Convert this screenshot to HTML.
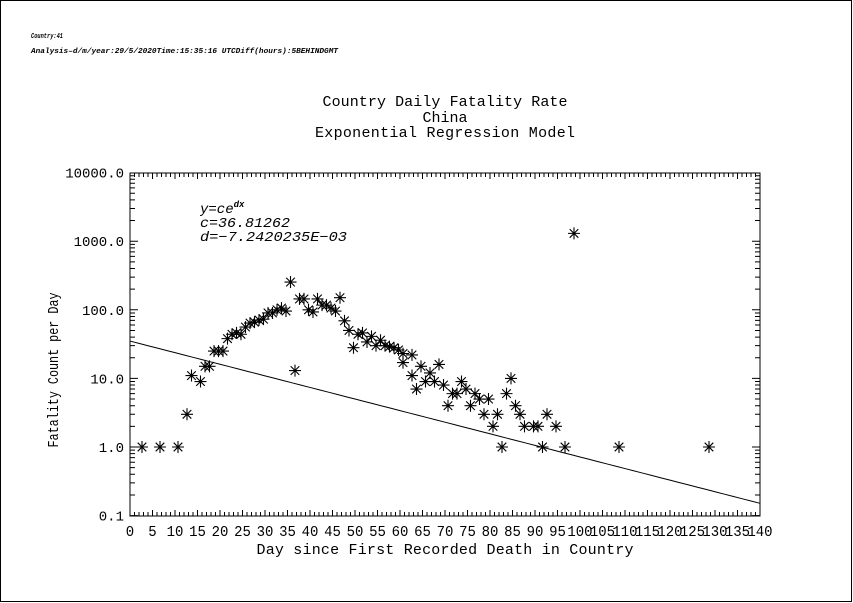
<!DOCTYPE html>
<html><head><meta charset="utf-8"><style>
html,body{margin:0;padding:0;background:#fff}
svg{display:block}
text{font-family:"Liberation Mono",monospace;fill:#000}
</style></head><body>
<svg id="chart" width="853" height="603" viewBox="0 0 853 603" xmlns="http://www.w3.org/2000/svg">
<rect x="0.5" y="0.5" width="851" height="601" fill="#fff" stroke="#000"/>
<text x="31" y="38" font-size="7" font-family="Liberation Serif" font-style="italic" font-weight="bold" textLength="32" lengthAdjust="spacingAndGlyphs">Country:41</text>
<text x="31" y="53" font-size="7" font-family="Liberation Serif" font-style="italic" font-weight="bold" textLength="307" lengthAdjust="spacingAndGlyphs">Analysis–d/m/year:29/5/2020Time:15:35:16 UTCDiff(hours):5BEHINDGMT</text>
<text x="445" y="106" font-size="15" text-anchor="middle" textLength="245">Country Daily Fatality Rate</text>
<text x="445" y="122" font-size="15" text-anchor="middle">China</text>
<text x="445" y="137" font-size="15" text-anchor="middle" textLength="260">Exponential Regression Model</text>
<text x="445" y="554" font-size="15" text-anchor="middle" textLength="377">Day since First Recorded Death in Country</text>
<text transform="translate(58,370) rotate(-90)" font-size="15" text-anchor="middle" textLength="155" lengthAdjust="spacingAndGlyphs">Fatality Count per Day</text>
<g font-family="Liberation Serif" font-style="italic" font-size="14">
<text x="200" y="213">y=ce<tspan font-size="9" dy="-6" font-weight="bold">dx</tspan></text>
<text x="200" y="227" textLength="90" lengthAdjust="spacingAndGlyphs">c=36.81262</text>
<text x="200" y="241" textLength="147" lengthAdjust="spacingAndGlyphs">d=−7.2420235E−03</text>
</g>
<g id="axes"></g><g id="line"></g><g id="pts"></g>
</svg>
<script>
const days = [3,7,11,13,14,16,17,18,19,20,21,22,23,24,25,26,27,28,29,30,31,32,33,34,35,36,37,38,39,40,41,42,43,44,45,46,47,48,49,50,51,52,53,54,55,56,57,58,59,60,61,61,63,63,64,65,66,67,68,69,70,71,72,73,74,75,76,77,78,79,80,81,82,83,84,85,86,87,88,90,91,92,93,95,97,99,109,129];
const fatalities = [1,1,1,3,11,9,15,15,25,25,25,38,44,46,44,56,64,66,71,73,90,90,100,106,96,254,13,144,144,100,93,144,117,117,106,96,150,69,50,28,44,46,34,41,30,36,30,29,28,26,23,17,22,11,7,15,9,12,9,16,8,4,6,6,9,7,4,6,5,3,5,2,3,1,6,10,4,3,2,2,2,1,3,2,1,1300,1,1];
const modelC = 35;
const modelD = -0.0389;
const xTicks = [0,5,10,15,20,25,30,35,40,45,50,55,60,65,70,75,80,85,90,95,100,105,110,115,120,125,130,135,140];
const yTicks = [0.1,1,10,100,1000,10000];
const yTickLabels = ["0.1","1.0","10.0","100.0","1000.0","10000.0"];

const NS="http://www.w3.org/2000/svg";
const L=130,R=760,T=173,B=516;
const X=d=>128.5+4.5*d;
const Y=v=>447-68.6*Math.log10(v);
function mk(tag,attrs,parent){const e=document.createElementNS(NS,tag);for(const k in attrs)e.setAttribute(k,attrs[k]);parent.appendChild(e);return e;}
const ax=document.getElementById('axes');
const frame=mk('rect',{x:L,y:T,width:R-L,height:B-T,fill:'none',stroke:'#000','stroke-width':1},ax);


let tp='';
for(let d=0;d<=140;d++){const x=X(d)+1.5;if(x>R)break;const len=(d%5===0)?6:4;tp+=`M${x} ${B}v${-len}M${x} ${T}v${len}`;}
for(let e=-1;e<4;e++)for(let m=1;m<10;m++){const y=Y(m*Math.pow(10,e));const len=m===1?8:5;tp+=`M${L} ${y}h${len}M${R} ${y}h${-len}`;}
const ticks=mk('path',{d:tp,stroke:'#000','stroke-width':1,fill:'none'},ax);


xTicks.forEach(t=>{const s=String(t);const tx=mk('text',{x:X(t)+1.5,y:536,'font-size':15,'text-anchor':'middle',textLength:s.length*8.4,lengthAdjust:'spacingAndGlyphs'},ax);tx.textContent=s;

});
yTicks.forEach((v,i)=>{const tx=mk('text',{x:124,y:Y(v)+5,'font-size':14,'text-anchor':'end'},ax);tx.textContent=yTickLabels[i];

});
let lp='';for(let d=0;d<=140;d+=2){const x=Math.max(L,X(d)+1.5);lp+=(d?'L':'M')+Math.min(R,x)+' '+Y(modelC*Math.exp(modelD*d));}
const line=mk('path',{d:lp,stroke:'#000','stroke-width':1,fill:'none'},document.getElementById('line'));


const pg=document.getElementById('pts');
days.forEach((d,i)=>{const x=X(d),y=Y(fatalities[i]);const s=6,t=4.3;
const p=mk('path',{d:`M${x-s} ${y}h${2*s}M${x} ${y-s}v${2*s}M${x-t} ${y-t}l${2*t} ${2*t}M${x-t} ${y+t}l${2*t} ${-2*t}`,stroke:'#000','stroke-width':1.1,fill:'none'},pg);

});
</script>
</body></html>
